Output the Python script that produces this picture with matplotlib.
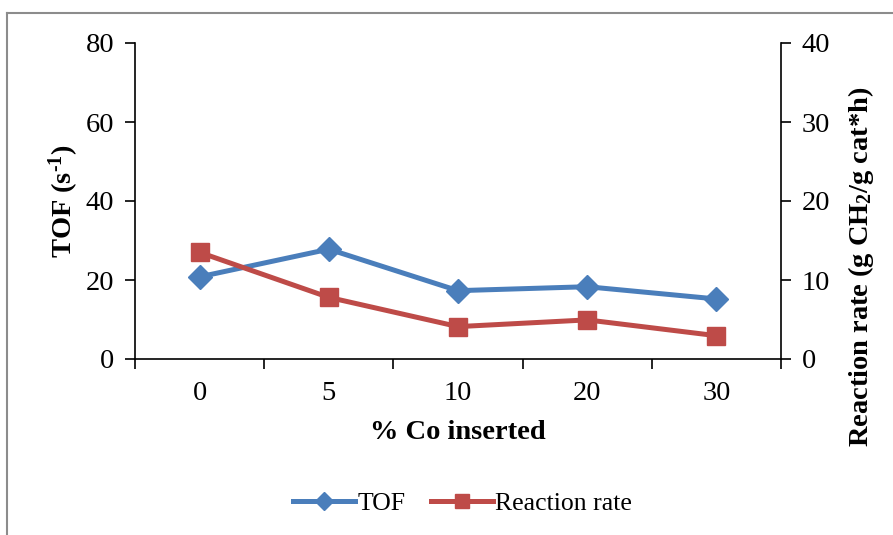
import matplotlib
matplotlib.use("Agg")
import matplotlib.pyplot as plt
from matplotlib.lines import Line2D
import numpy as np

plt.rcParams['font.family'] = ['Liberation Serif', 'DejaVu Serif']
plt.rcParams['mathtext.fontset'] = 'custom'
plt.rcParams['mathtext.rm'] = 'Liberation Serif:bold'
plt.rcParams['mathtext.bf'] = 'Liberation Serif:bold'
plt.rcParams['mathtext.it'] = 'Liberation Serif:italic'

# Data
co_inserted = ['0', '5', '10', '20', '30']
tof = [20.8, 27.8, 17.3, 18.3, 15.2]
reaction_rate = [13.5, 7.8, 4.1, 4.95, 2.95]
tof_ticks = [0, 20, 40, 60, 80]
rate_ticks = [0, 10, 20, 30, 40]

blue = '#4A7EBB'
red = '#BE4B48'

fig = plt.figure(figsize=(8.93, 5.35), dpi=100)
fig.patch.set_facecolor('white')

# Outer gray frame of the chart area
frame_x, frame_y = 7 / 893, 1 - 13 / 535
fig.add_artist(Line2D([frame_x, 1.0], [frame_y, frame_y], transform=fig.transFigure,
                      color='#8c8c8c', lw=1.5))
fig.add_artist(Line2D([frame_x, frame_x], [0.0, frame_y], transform=fig.transFigure,
                      color='#8c8c8c', lw=1.5))

ax = fig.add_axes([135 / 893, 1 - 359 / 535, (781 - 135) / 893, (359 - 43) / 535])
ax2 = ax.twinx()

x = np.arange(len(co_inserted))
ax.plot(x, tof, color=blue, lw=3.6, marker='D', ms=12, mfc=blue, mec=blue,
        solid_joinstyle='round', label='TOF', zorder=3)
ax2.plot(x, reaction_rate, color=red, lw=3.6, marker='s', ms=13.5, mfc=red, mec=red,
         solid_joinstyle='round', label='Reaction rate', zorder=3)

ax.set_xlim(-0.5, len(co_inserted) - 0.5)
ax.set_ylim(0, 80)
ax2.set_ylim(0, 40)
ax.set_yticks(tof_ticks)
ax2.set_yticks(rate_ticks)

# Category boundary ticks on the x axis, labels at centers
ax.set_xticks(np.arange(-0.5, len(co_inserted), 1.0))
ax.set_xticklabels([])
ax.set_xticks(x, minor=True)
ax.set_xticklabels(co_inserted, minor=True)
ax.tick_params(axis='x', which='major', length=7, width=1.2, direction='out')
ax.tick_params(axis='x', which='minor', length=0, pad=16, labelsize=20.5)
ax.tick_params(axis='y', length=7, width=1.2, direction='out', labelsize=20.5, pad=8)
ax2.tick_params(axis='y', length=7, width=1.2, direction='out', labelsize=20.5, pad=8)

for a in (ax, ax2):
    a.spines['top'].set_visible(False)
    for s in ('left', 'right', 'bottom'):
        a.spines[s].set_linewidth(1.2)
ax.spines['right'].set_visible(False)
ax2.spines['left'].set_visible(False)
ax2.spines['bottom'].set_visible(False)

ax.set_xlabel('% Co inserted', fontsize=20.5, fontweight='bold', labelpad=10)
ax.set_ylabel(r'$\mathbf{TOF\ (s^{\text{-}1})}$', fontsize=20.5, labelpad=3)
ax2.set_ylabel(r'$\mathbf{Reaction\ rate\ (g\ CH_2/g\ cat{*}h)}$', fontsize=20.5,
               labelpad=10, rotation=90)
ax2.yaxis.set_label_coords(1.101, 0.29)

handles = [ax.get_lines()[0], ax2.get_lines()[0]]
fig.legend(handles, ['TOF', 'Reaction rate'], loc='center', ncol=2,
           bbox_to_anchor=(0.518, 0.058), frameon=False, fontsize=18.5,
           handlelength=2.4, columnspacing=1.0, handletextpad=0.1, markerscale=0.75)

fig.savefig('out.png', dpi=100)
